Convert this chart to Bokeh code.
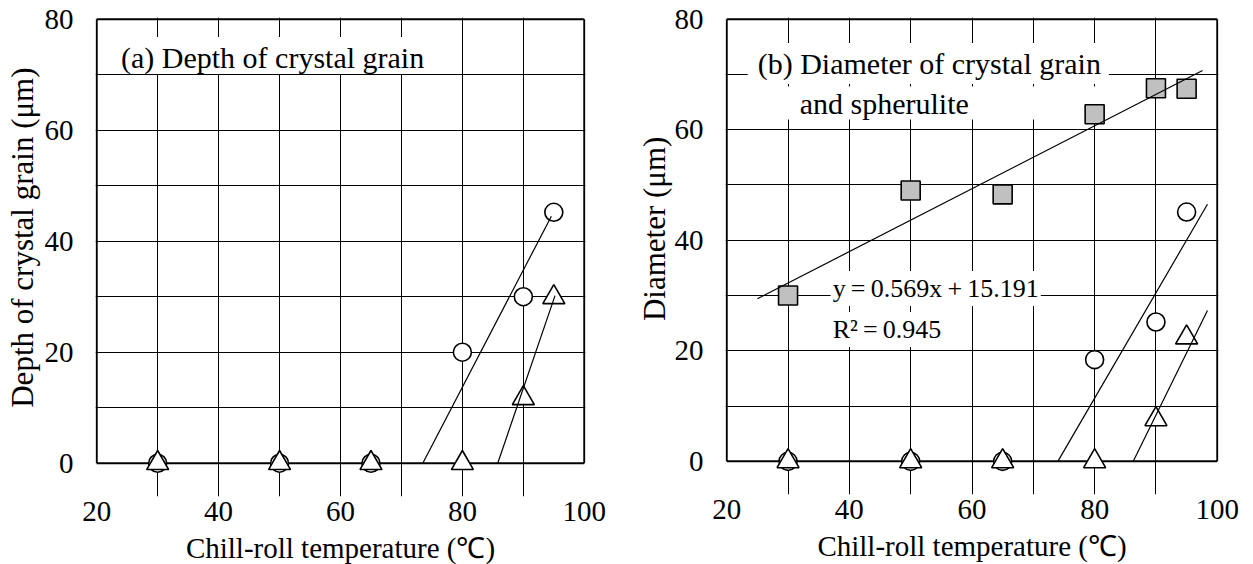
from bokeh.plotting import figure
from bokeh.layouts import row
from bokeh.models import FixedTicker, Label, Range1d
from bokeh.embed import file_html
from bokeh.resources import INLINE

# ---------------- data ----------------
temperature = [30, 50, 65, 80, 90, 95]

# (a) depth of crystal grain
depth_circle = [0, 0, 0, 20.0, 30.0, 45.2]
depth_triangle = [0, 0, 0, 0, 11.7, 29.9]

# (b) diameter of crystal grain and spherulite
diam_square = [30.0, 49.0, 48.3, 62.8, 67.5, 67.4]
diam_circle = [0, 0, 0, 18.4, 25.2, 45.1]
diam_triangle = [0, 0, 0, 0, 7.6, 22.4]

# trend lines (end points)
depth_circle_fit_x = [73.5, 94.6]
depth_circle_fit_y = [0, 44.5]
depth_triangle_fit_x = [85.8, 95.2]
depth_triangle_fit_y = [0, 30.2]
diam_circle_fit_x = [74.0, 98.4]
diam_circle_fit_y = [0, 46.5]
diam_triangle_fit_x = [86.3, 98.4]
diam_triangle_fit_y = [0, 27.3]
square_fit_slope = 0.569
square_fit_intercept = 15.191
square_fit_x = [25.0, 97.6]

x_ticks = [20, 40, 60, 80, 100]
y_ticks = [0, 20, 40, 60, 80]
x_grid = [30, 40, 50, 60, 70, 80, 90]
y_grid = [10, 20, 30, 40, 50, 60, 70]
x_limits = [20, 100]
y_limits = [0, 80]

x_title = "Chill-roll temperature (\u2103)"
FONT = "Liberation Serif"
NB = "\u00a0"
TS = "\u2009"


def make_fig(frame_w, frame_h, bl, br, bt, bb, ylabel, ystand):
    p = figure(frame_width=frame_w, frame_height=frame_h,
               x_range=Range1d(19.8, 100.2), y_range=Range1d(-6, 80.3),
               output_backend="svg", toolbar_location=None,
               min_border_left=bl, min_border_right=br, min_border_top=bt,
               min_border_bottom=bb)
    p.background_fill_color = "white"
    p.border_fill_color = "white"
    p.outline_line_color = None
    p.xaxis.ticker = FixedTicker(ticks=x_ticks)
    p.yaxis.ticker = FixedTicker(ticks=y_ticks)
    p.xgrid.ticker = FixedTicker(ticks=x_grid)
    p.ygrid.ticker = FixedTicker(ticks=y_grid)
    p.xgrid.bounds = (0, 80)
    p.ygrid.bounds = (20, 100)
    for g in (p.xgrid, p.ygrid):
        g.grid_line_color = "black"
        g.grid_line_width = 1
        g.grid_line_alpha = 1.0
    for ax in (p.xaxis, p.yaxis):
        ax.axis_line_color = None
        ax.major_tick_line_color = None
        ax.minor_tick_line_color = None
        ax.major_tick_out = 0
        ax.major_tick_in = 0
        ax.minor_tick_out = 0
        ax.minor_tick_in = 0
        ax.major_label_text_font = FONT
        ax.major_label_text_font_size = "29px"
        ax.major_label_text_color = "black"
        ax.axis_label_text_font = FONT
        ax.axis_label_text_font_style = "normal"
        ax.axis_label_text_color = "black"
    p.xaxis.major_label_standoff = 5
    p.xaxis.axis_label = x_title
    p.xaxis.axis_label_text_font_size = "29px"
    p.xaxis.axis_label_standoff = 8
    p.yaxis.major_label_standoff = 22
    p.yaxis.axis_label = ylabel
    p.yaxis.axis_label_text_font_size = "31px"
    p.yaxis.axis_label_standoff = ystand
    # plot-area border drawn at the axis limits (0..80, 20..100)
    p.segment(x0=[x_limits[0], x_limits[1]], y0=[y_limits[0], y_limits[0]],
              x1=[x_limits[0], x_limits[1]], y1=[y_limits[1], y_limits[1]],
              line_color="black", line_width=2)
    p.segment(x0=[x_limits[0], x_limits[0]], y0=[y_limits[0], y_limits[1]],
              x1=[x_limits[1], x_limits[1]], y1=[y_limits[0], y_limits[1]],
              line_color="black", line_width=2)
    return p


def add_markers(p, circles, triangles):
    p.scatter(temperature, circles, marker="circle", size=18,
              fill_color="white", line_color="black", line_width=1.6)
    p.scatter(temperature, triangles, marker="triangle", size=22,
              fill_color="white", line_color="black", line_width=1.6)


def add_label(p, text, x, y, size, pad, baseline="middle"):
    lab = Label(x=x, y=y, text=text, text_font=FONT, text_font_size=size,
                text_color="black", text_align="left",
                text_baseline=baseline, background_fill_color="white",
                padding=pad, level="underlay")
    p.add_layout(lab)


# ---------------- (a) ----------------
pa = make_fig(490, 479, 95, 35, 17, 68,
              NB * 5 + "Depth of crystal grain (\u03bcm)", 2)
add_markers(pa, depth_circle, depth_triangle)
pa.line(depth_circle_fit_x, depth_circle_fit_y, line_color="black", line_width=1.2)
pa.line(depth_triangle_fit_x, depth_triangle_fit_y, line_color="black", line_width=1.2)
add_label(pa, "(a) Depth of crystal grain", 22.67, 70.1, "30px",
          pad=(8, 8, 4, 0), baseline="bottom")

# ---------------- (b) ----------------
pb = make_fig(493, 477, 105, 35, 17, 70, NB * 7 + "Diameter (\u03bcm)", 0)
pb.scatter(temperature, diam_square, marker="square", size=19,
           fill_color="#c0c0c0", line_color="black", line_width=1.6)
add_markers(pb, diam_circle, diam_triangle)
sq_fit_y = [square_fit_slope * x + square_fit_intercept for x in square_fit_x]
pb.line(square_fit_x, sq_fit_y, line_color="black", line_width=1.2)
pb.line(diam_circle_fit_x, diam_circle_fit_y, line_color="black", line_width=1.2)
pb.line(diam_triangle_fit_x, diam_triangle_fit_y, line_color="black", line_width=1.2)
add_label(pb, "(b) Diameter of crystal grain", 23.42, 72.0, "30px", pad=(10, 8, 4, 4))
add_label(pb, "and spherulite", 23.42, 64.83, "30px", pad=(52, 138, 0, 0))
add_label(pb, "y" + TS + "=" + TS + "0.569x" + TS + "+" + TS + "15.191",
          36.95, 31.26, "26px", pad=(2, 2, 3, 3))
add_label(pb, "R\u00b2" + TS + "=" + TS + "0.945", 36.95, 23.84, "26px", pad=(2, 6, 3, 3))

layout = row(pa, pb, spacing=0)
open("out.html", "w").write(file_html(layout, INLINE))
